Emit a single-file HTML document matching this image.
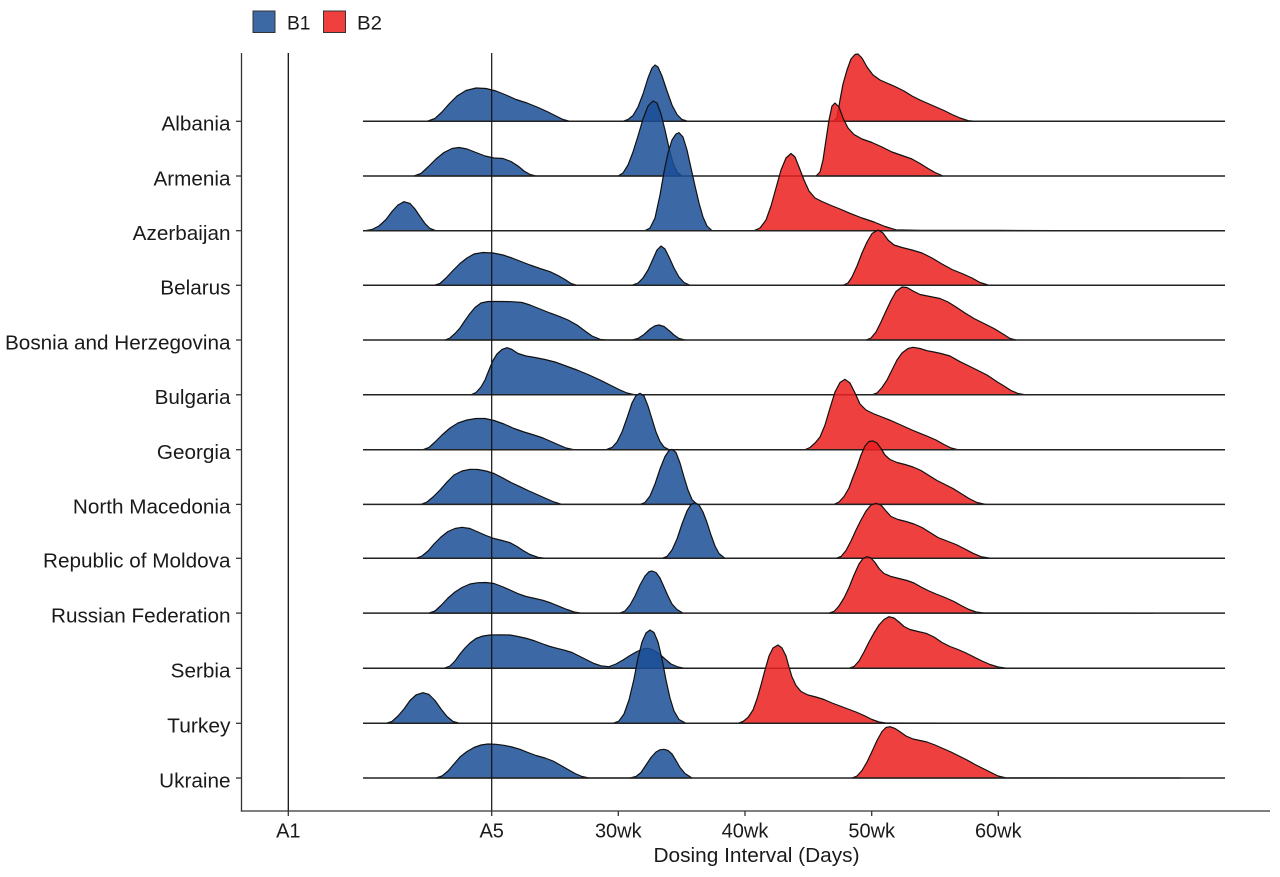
<!DOCTYPE html>
<html>
<head>
<meta charset="utf-8">
<style>
html,body{margin:0;padding:0;background:#fff;}
svg{display:block;}
text{font-family:"Liberation Sans",Arial,sans-serif;fill:#1a1a1a;}
.b{fill:#1a4f96;fill-opacity:.85;stroke:#111;stroke-width:1.2;stroke-linejoin:round;}
.r{fill:#ec1e1e;fill-opacity:.85;stroke:#111;stroke-width:1.2;stroke-linejoin:round;}
.bl{stroke:#222;stroke-width:1.5;}
.ax{stroke:#333;stroke-width:1.3;fill:none;}
</style>
</head>
<body>
<svg width="1280" height="877" viewBox="0 0 1280 877" xmlns="http://www.w3.org/2000/svg">
<rect width="1280" height="877" fill="#fff"/>

<!-- Legend -->
<rect x="253" y="11" width="22" height="21.5" fill="#3c69a4" stroke="#333" stroke-width="1"/>
<text x="287" y="29.5" font-size="19" textLength="23.5" lengthAdjust="spacingAndGlyphs">B1</text>
<rect x="323.5" y="11" width="22" height="21.5" fill="#ef3f3f" stroke="#333" stroke-width="1"/>
<text x="357" y="29.5" font-size="19" textLength="25" lengthAdjust="spacingAndGlyphs">B2</text>

<!-- Albania b=121.3 -->
<path class="b" d="M427,121.3 L435,118.5 L442,112 L449,104 L457,96 L466,90.5 L476,88 L486,88.5 L496,91 L506,95 L516,99.5 L527,103 L537,107 L547,111.5 L556,116 L563,119.5 L570,121.3 L623,121.3 L628,119.5 L633,115.5 L638,107 L643,94 L648,78 L652,68 L655,65 L658,67 L662,76 L667,91 L672,105 L677,114.5 L682,119.5 L688,121.3 Z"/>
<path class="r" d="M833,121.3 L837,118 L840,100 L843,84 L847,70 L851,59 L855,54.5 L858,54 L862,58 L867,67 L873,75 L880,80 L888,83.5 L896,87 L904,91 L912,96 L920,100 L928,103.5 L936,107 L944,110.5 L952,114.5 L960,118 L968,120.6 L976,121.3 Z"/>
<line class="bl" x1="363" y1="121.3" x2="1225" y2="121.3"/>

<!-- Armenia b=176 -->
<path class="b" d="M414,176 L421,173.5 L428,167 L436,159 L444,152.5 L452,148.5 L459,147.5 L467,149 L476,152.5 L485,156 L494,158 L503,158.5 L511,161.5 L518,166 L524,171 L530,174.5 L536,176 L618,176 L623,173 L628,165 L633,152 L638,136 L643,119 L648,106 L653,101 L657,103 L661,114 L665,130 L669,148 L673,163 L677,172 L682,176 Z"/>
<path class="r" d="M816,176 L820,172 L823,160 L826,140 L829,120 L832,106 L835,103 L839,107 L843,118 L848,128 L854,134.5 L862,139 L872,142.5 L882,147 L892,152 L902,155.5 L912,159 L920,163.5 L928,168.5 L935,172.5 L943,176 Z"/>
<line class="bl" x1="363" y1="176" x2="1225" y2="176"/>

<!-- Azerbaijan b=230.7 -->
<path class="b" d="M365,230.7 L372,229.5 L379,226 L386,219.5 L392,211.5 L398,205 L404,201.7 L410,203.5 L415,209 L420,216.5 L425,223.5 L430,228.5 L436,230.7 L645,230.7 L650,228 L655,218 L660,195 L664,172 L668,153 L672,140 L676,134 L679,132.7 L683,137 L687,150 L691,168 L695,186 L699,203 L703,217 L707,226 L712,230.7 Z"/>
<path class="r" d="M754,230.7 L760,228 L766,220 L771,206 L776,188 L781,170 L786,158 L791,153.5 L795,157 L799,167 L804,180 L809,191 L815,198 L822,201.5 L830,205 L840,209 L850,213.3 L862,218 L874,222 L885,226.5 L896,229.8 L920,230.4 L1000,230.4 L1090,230.7 Z"/>
<line class="bl" x1="363" y1="230.7" x2="1225" y2="230.7"/>

<!-- Belarus b=285.3 -->
<path class="b" d="M434,285.3 L440,283.5 L446,278 L453,270.5 L460,263.5 L467,258 L474,254 L483,252.5 L493,253 L503,255 L512,258 L521,261.5 L530,265 L540,268.5 L550,271.7 L558,275.5 L565,279.5 L571,283.5 L577,285.3 L632,285.3 L638,283 L643,278 L648,270 L653,259 L657,250 L661,246 L665,249 L669,257 L674,268 L679,277 L684,282.5 L690,285.3 Z"/>
<path class="r" d="M843,285.3 L848,283 L852,277 L857,266 L862,253 L867,242 L872,233.5 L878,230 L883,233 L888,240 L894,245 L902,247.5 L912,250 L922,253 L932,258 L942,264 L952,269.5 L962,273.5 L972,278 L980,282.5 L988,285 L1160,285.3 Z"/>
<line class="bl" x1="363" y1="285.3" x2="1225" y2="285.3"/>

<!-- Bosnia b=340 -->
<path class="b" d="M445,340 L450,338 L455,333.5 L460,328 L465,320.5 L470,313.5 L475,307.5 L481,303 L488,301.5 L500,301.5 L512,301.7 L522,302.5 L530,305 L540,309 L550,313 L560,316.7 L568,320 L577,325 L585,331 L592,336 L600,339.3 L606,340 L632,340 L638,338.5 L644,334.5 L650,329 L655,325.8 L659,325 L664,326.5 L669,330.5 L674,335 L679,338.5 L685,340 Z"/>
<path class="r" d="M866,340 L871,338 L876,332 L881,322 L886,311 L891,300.5 L896,291.5 L902,287 L907,287.5 L913,291 L920,294.5 L930,296.5 L940,298.5 L948,302 L956,307 L965,313 L974,318.5 L984,323.5 L994,328.5 L1003,334 L1010,338.5 L1016,340 Z"/>
<line class="bl" x1="363" y1="340" x2="1225" y2="340"/>

<!-- Bulgaria b=394.8 -->
<path class="b" d="M471,394.8 L476,392.5 L481,387 L485,380 L489,370 L493,360.5 L497,354 L502,349.5 L507,347.7 L512,349.5 L518,353.5 L526,356 L535,357.5 L545,359.5 L555,362 L566,366 L577,370 L588,374.5 L600,380 L610,385 L619,389.5 L627,393 L635,394.8 Z"/>
<path class="r" d="M872,394.8 L877,393 L882,387.5 L887,380 L892,370 L897,360 L902,353 L908,348.5 L913,347.3 L920,348.5 L927,350.7 L934,352 L941,353.5 L950,356 L960,361.7 L968,365.5 L974,368.5 L980,371.5 L987,375 L997,381.7 L1004,386 L1011,390.5 L1018,393.5 L1026,394.8 L1190,394.8 Z"/>
<line class="bl" x1="363" y1="394.8" x2="1225" y2="394.8"/>

<!-- Georgia b=449.7 -->
<path class="b" d="M423,449.7 L429,447.5 L435,442 L442,435 L450,428 L458,423 L467,420 L476,418.5 L485,418.5 L494,420.5 L504,424 L514,428.5 L524,432 L534,435 L543,438 L551,441.5 L559,445 L566,448 L574,449.7 L606,449.7 L612,447.5 L617,442 L622,432 L627,418 L632,403 L636,395.5 L640,393.3 L644,396 L648,406 L652,419 L656,432 L660,441.5 L664,447 L669,449.7 Z"/>
<path class="r" d="M805,449.7 L810,447.5 L815,443 L820,437 L825,425 L830,408 L835,392 L840,382.5 L845,379.3 L850,383 L855,393 L860,404 L866,410 L873,413.5 L882,417 L892,421 L902,425.5 L912,430 L920,433.3 L928,436.5 L936,440 L944,444.5 L951,448 L958,449.7 Z"/>
<line class="bl" x1="363" y1="449.7" x2="1225" y2="449.7"/>

<!-- North Macedonia b=504.4 -->
<path class="b" d="M421,504.4 L427,502 L433,497 L440,490 L447,482 L454,475 L462,471 L470,469.3 L478,469.5 L486,471 L494,473.5 L502,477.5 L511,482.5 L520,486.7 L528,490.5 L537,494.5 L546,498.5 L554,502 L562,504.4 L640,504.4 L645,502.5 L650,496 L655,484 L660,469 L665,456.5 L669,450.5 L672,449.3 L676,452.5 L680,463 L684,477 L688,490 L692,499.5 L697,504.4 Z"/>
<path class="r" d="M834,504.4 L839,502 L844,496.5 L849,488 L853,477 L857,467 L861,455 L865,446 L869,441.5 L873,441 L877,443 L881,448.5 L885,455 L890,459.5 L897,462.5 L905,464.5 L913,467 L921,470.5 L929,475.5 L937,480.5 L945,484.5 L953,488.5 L961,493.5 L969,498.5 L977,502.5 L986,504.4 Z"/>
<line class="bl" x1="363" y1="504.4" x2="1225" y2="504.4"/>

<!-- Moldova b=558.3 -->
<path class="b" d="M416,558.3 L422,556 L428,551 L434,544 L441,537 L448,531.5 L455,528.5 L462,527.3 L470,528.5 L478,532 L486,535.5 L494,538.5 L502,540.5 L510,542.7 L517,546.5 L523,550.5 L530,554.5 L538,557.3 L546,558.3 L662,558.3 L667,556.5 L672,550 L677,539 L682,524 L687,511 L691,504.5 L695,502.7 L699,505 L703,512 L707,522.5 L711,535 L715,546 L719,553.5 L725,558.3 Z"/>
<path class="r" d="M836,558.3 L841,556.5 L846,550.5 L851,541 L856,530 L861,520 L866,511 L871,505 L876,503.3 L881,505 L886,511 L891,516.5 L898,519.5 L906,521.5 L914,524 L922,527.5 L930,532.5 L938,537.5 L947,541 L956,544.5 L965,549 L973,553.3 L981,556.7 L990,558.1 L1170,558.3 Z"/>
<line class="bl" x1="363" y1="558.3" x2="1225" y2="558.3"/>

<!-- Russian Federation b=613.1 -->
<path class="b" d="M429,613.1 L435,611 L441,605.5 L448,598 L455,592 L462,587.5 L470,584 L478,582.7 L486,582.5 L494,583.5 L502,586.5 L510,590 L518,593.7 L526,596.5 L535,598.5 L543,600.3 L551,603 L560,606.7 L567,609.5 L574,612 L581,613.1 L620,613.1 L625,611 L630,605 L635,596 L640,585 L645,576 L649,571.7 L652,571 L656,572.5 L660,578 L664,587 L668,596 L672,604 L677,609.5 L683,613.1 Z"/>
<path class="r" d="M829,613.1 L834,611.5 L839,606 L844,598 L849,587.5 L854,575 L859,564 L863,558.5 L867,556.7 L871,558 L875,562.5 L879,568.5 L884,573.5 L891,576.5 L899,578.5 L907,580.5 L914,583 L921,587 L928,590.5 L936,594 L945,597.5 L954,601.5 L962,606 L969,609.5 L976,612 L984,613 L1153,613.1 Z"/>
<line class="bl" x1="363" y1="613.1" x2="1225" y2="613.1"/>

<!-- Serbia b=668.3 -->
<path class="b" d="M444,668.3 L450,666 L455,661 L460,654 L465,648 L470,643 L476,638.5 L483,636 L490,635 L500,634.8 L510,635 L518,636.5 L527,638.5 L535,641 L543,644 L550,646.5 L557,648.3 L565,650.3 L572,652.5 L579,656 L587,660 L594,663.5 L601,665.8 L609,666.7 L616,664 L623,660 L630,655.5 L637,651.5 L643,649 L648,648.3 L653,650 L659,653.5 L665,659 L671,664 L678,667 L685,668.3 Z"/>
<path class="r" d="M849,668.3 L854,666.5 L859,661 L864,652 L869,642 L874,633 L879,625 L884,619.5 L889,616.7 L894,618 L899,622 L904,626.5 L910,629.5 L918,631.5 L926,633.3 L934,637 L942,642.5 L950,646.5 L958,649.5 L966,653 L974,657 L982,661 L990,664.5 L998,667 L1006,668.1 L1173,668.3 Z"/>
<line class="bl" x1="363" y1="668.3" x2="1225" y2="668.3"/>

<!-- Turkey b=723.3 -->
<path class="b" d="M386,723.3 L392,721.5 L398,716 L404,709 L410,700.5 L416,695 L423,692.7 L429,694.5 L435,700.5 L441,709 L447,716.5 L453,721.5 L460,723.3 L613,723.3 L619,721 L624,714 L629,700 L634,679 L638,658 L642,642 L646,633 L650,630 L654,632.5 L658,642 L662,659 L666,680 L670,698 L674,711 L679,719.5 L686,723.3 Z"/>
<path class="r" d="M738,723.3 L743,721.5 L748,717.5 L753,710 L757,699 L761,685 L765,670 L769,656 L773,648 L778,645 L782,648 L786,656 L789,667 L792,677 L796,685.5 L801,691.5 L808,695 L816,697 L824,699.5 L832,703 L840,706 L848,709 L856,712 L864,715.5 L872,719.5 L879,722 L886,723 L1070,723.3 Z"/>
<line class="bl" x1="363" y1="723.3" x2="1225" y2="723.3"/>

<!-- Ukraine b=778 -->
<path class="b" d="M436,778 L442,776 L448,771 L454,764 L460,757 L467,751.5 L474,747.5 L481,745 L488,744 L496,744.3 L504,745.3 L512,747 L520,749.3 L528,752.5 L536,755.5 L545,758 L553,761 L561,765.5 L568,769.5 L575,773.5 L582,776.5 L589,778 L630,778 L636,776.5 L641,772.5 L646,765 L651,757.5 L656,752 L660,749.8 L664,749.3 L668,750.5 L672,754 L676,760.5 L680,767.5 L685,773.5 L692,778 Z"/>
<path class="r" d="M852,778 L857,776 L862,770.5 L867,762 L872,751.5 L877,740.5 L882,731.5 L886,727.5 L890,726.7 L895,728.5 L900,731.7 L906,736 L913,739 L920,740.5 L927,742 L935,745 L943,748.5 L951,752 L959,756 L967,760 L975,764.5 L983,768.5 L991,772.5 L998,776 L1006,777.8 L1180,778 Z"/>
<line class="bl" x1="363" y1="778" x2="1225" y2="778"/>

<!-- Vertical reference lines -->
<line x1="288.3" y1="53" x2="288.3" y2="811" stroke="#111" stroke-width="1.3"/>
<line x1="491.7" y1="53" x2="491.7" y2="811" stroke="#111" stroke-width="1.2"/>

<!-- Axes -->
<line class="ax" x1="241.5" y1="53" x2="241.5" y2="811.5"/>
<line class="ax" x1="240.8" y1="811" x2="1270" y2="811"/>

<!-- Y ticks -->
<g stroke="#333" stroke-width="1.3">
<line x1="236" y1="121.3" x2="241.5" y2="121.3"/>
<line x1="236" y1="176" x2="241.5" y2="176"/>
<line x1="236" y1="230.7" x2="241.5" y2="230.7"/>
<line x1="236" y1="285.3" x2="241.5" y2="285.3"/>
<line x1="236" y1="340" x2="241.5" y2="340"/>
<line x1="236" y1="394.8" x2="241.5" y2="394.8"/>
<line x1="236" y1="449.7" x2="241.5" y2="449.7"/>
<line x1="236" y1="504.4" x2="241.5" y2="504.4"/>
<line x1="236" y1="558.3" x2="241.5" y2="558.3"/>
<line x1="236" y1="613.1" x2="241.5" y2="613.1"/>
<line x1="236" y1="668.3" x2="241.5" y2="668.3"/>
<line x1="236" y1="723.3" x2="241.5" y2="723.3"/>
<line x1="236" y1="778" x2="241.5" y2="778"/>
</g>

<!-- X ticks -->
<g stroke="#333" stroke-width="1.3">
<line x1="288.3" y1="811" x2="288.3" y2="816"/>
<line x1="491.7" y1="811" x2="491.7" y2="816"/>
<line x1="618.3" y1="811" x2="618.3" y2="816"/>
<line x1="745" y1="811" x2="745" y2="816"/>
<line x1="871.7" y1="811" x2="871.7" y2="816"/>
<line x1="998.3" y1="811" x2="998.3" y2="816"/>
</g>

<!-- Y labels -->
<g font-size="20" text-anchor="end">
<text x="230.5" y="130.6" textLength="69" lengthAdjust="spacingAndGlyphs">Albania</text>
<text x="230.5" y="185.3" textLength="77" lengthAdjust="spacingAndGlyphs">Armenia</text>
<text x="230.5" y="240" textLength="97.8" lengthAdjust="spacingAndGlyphs">Azerbaijan</text>
<text x="230.5" y="294.6" textLength="70.2" lengthAdjust="spacingAndGlyphs">Belarus</text>
<text x="230.5" y="349.3" textLength="225.5" lengthAdjust="spacingAndGlyphs">Bosnia and Herzegovina</text>
<text x="230.5" y="404.1" textLength="75.9" lengthAdjust="spacingAndGlyphs">Bulgaria</text>
<text x="230.5" y="459" textLength="73.6" lengthAdjust="spacingAndGlyphs">Georgia</text>
<text x="230.5" y="513.7" textLength="157.6" lengthAdjust="spacingAndGlyphs">North Macedonia</text>
<text x="230.5" y="567.6" textLength="187.5" lengthAdjust="spacingAndGlyphs">Republic of Moldova</text>
<text x="230.5" y="622.4" textLength="179.5" lengthAdjust="spacingAndGlyphs">Russian Federation</text>
<text x="230.5" y="677.6" textLength="59.8" lengthAdjust="spacingAndGlyphs">Serbia</text>
<text x="230.5" y="732.6" textLength="63.3" lengthAdjust="spacingAndGlyphs">Turkey</text>
<text x="230.5" y="787.3" textLength="71.3" lengthAdjust="spacingAndGlyphs">Ukraine</text>
</g>

<!-- X tick labels -->
<g font-size="20" text-anchor="middle">
<text x="288.3" y="837.5">A1</text>
<text x="491.7" y="837.5">A5</text>
<text x="618.3" y="837.5">30wk</text>
<text x="745" y="837.5">40wk</text>
<text x="871.7" y="837.5">50wk</text>
<text x="998.3" y="837.5">60wk</text>
</g>

<!-- X title -->
<text x="756.5" y="862" font-size="20" text-anchor="middle" textLength="206" lengthAdjust="spacingAndGlyphs">Dosing Interval (Days)</text>
</svg>
</body>
</html>
